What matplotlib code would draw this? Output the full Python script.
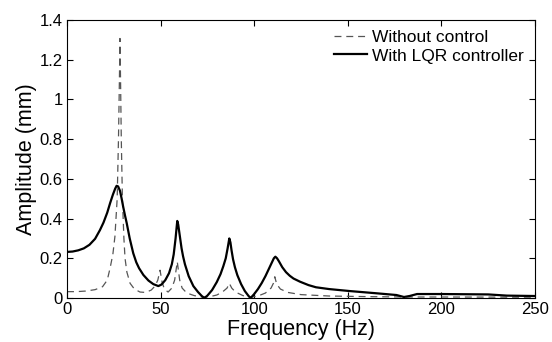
import matplotlib
matplotlib.use("Agg")
import matplotlib.pyplot as plt

plt.rcParams['font.family'] = ['Liberation Sans', 'DejaVu Sans']
plt.rcParams['lines.scale_dashes'] = False

# With LQR controller (solid)
freq_lqr = [0, 3, 6, 9, 12, 15, 17.6, 19.5, 21.5, 23, 24.5, 25.7, 26.5, 27.3, 28.3, 29.2,
            30, 31, 31.9, 33.5, 35.4, 37, 38.5, 40.8, 43.5, 46.1, 48.8, 50.5, 52.5, 54.5,
            56, 57, 58, 58.5, 58.9, 59.4, 60, 60.6, 61.2, 62, 63, 64, 65, 67.5, 70, 72,
            73.4, 75, 77.5, 80, 82, 83.5, 84.8, 85.8, 86.7, 87.3, 87.9, 88.7, 89.7, 91,
            93, 95, 97, 98.1, 100, 102, 104, 106, 108, 109.5, 110.5, 111.3, 112.2, 113.2,
            115, 117, 119, 121, 124.5, 129, 133, 140, 151, 165, 176, 180, 183, 187, 200,
            225, 235, 250]
amp_lqr = [0.232, 0.234, 0.24, 0.25, 0.268, 0.298, 0.342, 0.38, 0.43, 0.477, 0.52, 0.55,
           0.565, 0.562, 0.54, 0.50, 0.46, 0.415, 0.377, 0.30, 0.225, 0.18, 0.15, 0.116,
           0.088, 0.07, 0.06, 0.068, 0.09, 0.125, 0.17, 0.22, 0.30, 0.35, 0.388, 0.37,
           0.33, 0.29, 0.25, 0.21, 0.17, 0.14, 0.11, 0.06, 0.03, 0.01, 0.0, 0.012, 0.04,
           0.08, 0.12, 0.16, 0.20, 0.25, 0.30, 0.28, 0.24, 0.195, 0.155, 0.115, 0.07,
           0.035, 0.01, 0.0, 0.02, 0.045, 0.075, 0.11, 0.15, 0.18, 0.2, 0.208, 0.2, 0.185,
           0.155, 0.13, 0.112, 0.098, 0.082, 0.065, 0.054, 0.045, 0.035, 0.024, 0.015,
           0.005, 0.01, 0.02, 0.02, 0.018, 0.012, 0.01]

# Without control (dashed)
freq_nc = [0, 5, 10, 15, 19, 21.5, 23, 24.5, 25.6, 26.8, 27.5, 28, 28.3, 28.6, 29, 29.6,
           30.4, 31, 32, 33.7, 36, 39, 42, 45, 47, 48.5, 49.7, 50.8, 52, 54, 56, 57.5,
           58.9, 60.2, 61.5, 64, 68, 72, 76, 80, 83, 85.5, 86.7, 88, 90, 94, 98, 102,
           106, 109, 110.3, 111, 112, 114, 118, 125, 140, 160, 180, 200, 250]
amp_nc = [0.032, 0.032, 0.035, 0.042, 0.057, 0.09, 0.15, 0.22, 0.31, 0.5, 0.8, 1.1, 1.307,
          1.1, 0.8, 0.5, 0.3, 0.2, 0.13, 0.074, 0.045, 0.03, 0.028, 0.04, 0.06, 0.09,
          0.14, 0.08, 0.045, 0.03, 0.05, 0.09, 0.183, 0.09, 0.05, 0.025, 0.012, 0.005,
          0.006, 0.015, 0.03, 0.05, 0.074, 0.05, 0.03, 0.012, 0.004, 0.01, 0.025, 0.05,
          0.075, 0.107, 0.07, 0.045, 0.028, 0.017, 0.01, 0.007, 0.005, 0.005, 0.004]

xticks = [0, 50, 100, 150, 200, 250]
yticks = [0, 0.2, 0.4, 0.6, 0.8, 1.0, 1.2, 1.4]
yticklabels = ['0', '0.2', '0.4', '0.6', '0.8', '1', '1.2', '1.4']

fig = plt.figure(figsize=(5.52, 3.42), dpi=100)
ax = fig.add_axes([67/552, 1-298/342, 468/552, 278/342])

ax.plot(freq_nc, amp_nc, color='#555555', lw=0.9, dashes=(5, 3.5), label='Without control')
ax.plot(freq_lqr, amp_lqr, color='black', lw=1.6, label='With LQR controller')

ax.set_xlim(0, 250)
ax.set_ylim(0, 1.4)
ax.set_xticks(xticks)
ax.set_yticks(yticks)
ax.set_yticklabels(yticklabels)
ax.tick_params(direction='in', length=4, width=0.8, top=True, right=True,
               labelsize=12, pad=3, colors='black')
for s in ax.spines.values():
    s.set_linewidth(0.8)

ax.set_xlabel('Frequency (Hz)', fontsize=15.5, labelpad=1)
ax.set_ylabel('Amplitude (mm)', fontsize=15.5, labelpad=2)

leg = ax.legend(loc='upper right', bbox_to_anchor=(0.9765, 0.965), frameon=False,
                fontsize=12.5, handlelength=1.9, handletextpad=0.28, labelspacing=0.2,
                borderpad=0, borderaxespad=0)

fig.savefig('out.png', dpi=100)
